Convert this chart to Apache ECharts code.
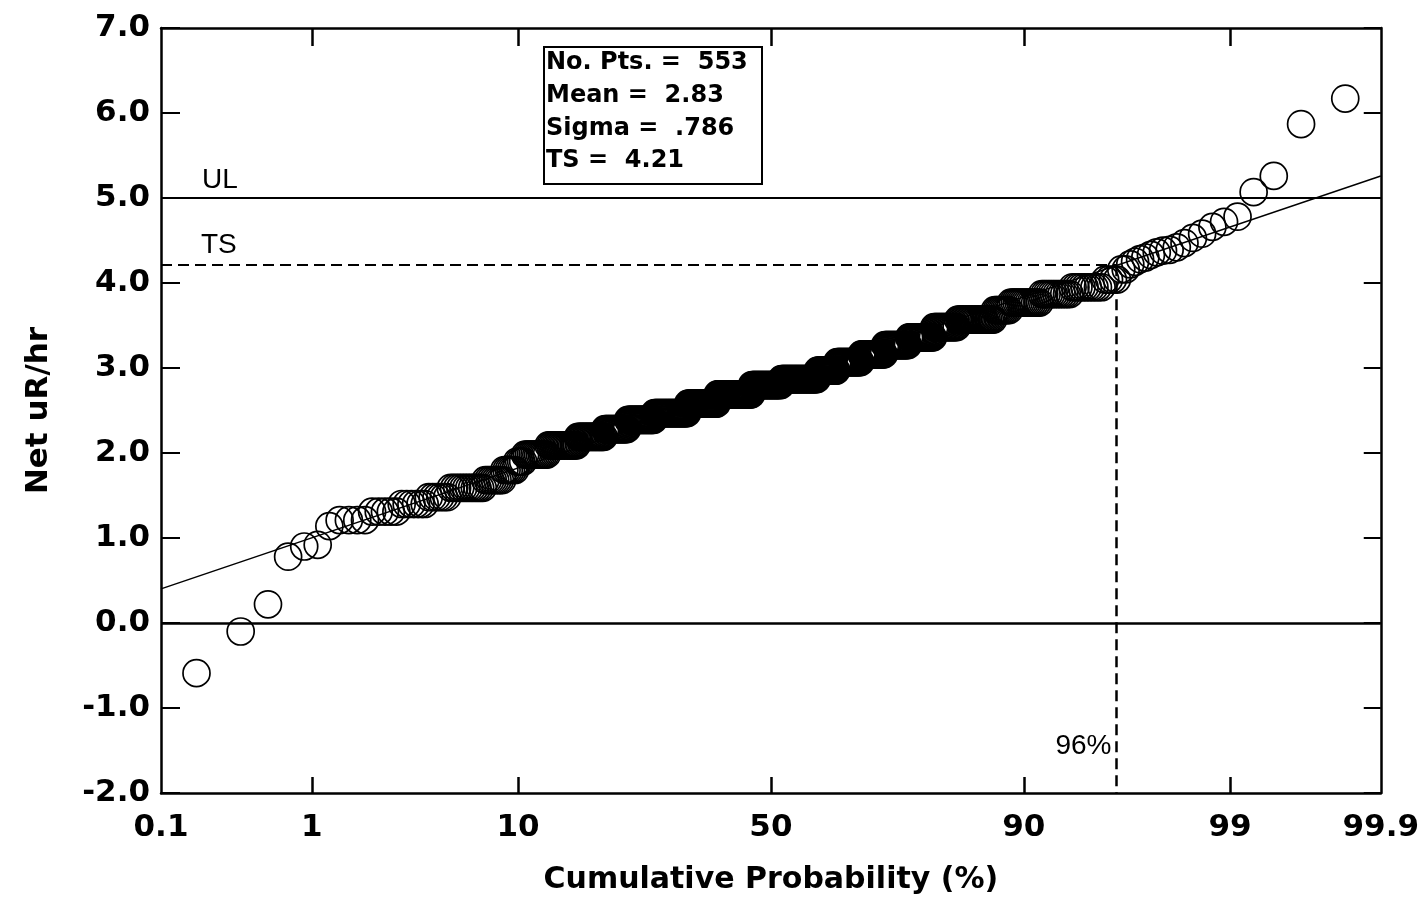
<!DOCTYPE html>
<html>
<head>
<meta charset="utf-8">
<script src="https://cdn.jsdelivr.net/npm/echarts@6/dist/echarts.min.js"></script>
<style>
html, body { margin: 0; padding: 0; background: #fff; }
#chart { width: 1422px; height: 900px; }
</style>
</head>
<body>
<div id="chart"></div>
<script>
// sorted net readings (uR/hr), grouped by level, with how many points sit at each level
var netLevels = [-0.59, -0.10, 0.22, 0.78, 0.90, 0.92, 1.14,
  1.21, 1.31, 1.40, 1.48, 1.59, 1.68, 1.80, 1.90, 1.98,
  2.09, 2.19, 2.28, 2.39, 2.47, 2.58, 2.69, 2.80, 2.87,
  2.97, 3.07, 3.16, 3.27, 3.36, 3.48, 3.57, 3.68, 3.77, 3.87, 3.95, 4.04, 4.16,
  4.22, 4.25, 4.28, 4.30, 4.33, 4.36, 4.38, 4.39, 4.42, 4.47, 4.53, 4.58, 4.66, 4.72, 4.78,
  5.07, 5.26, 5.87, 6.17];
var levelCounts = [1, 1, 1, 1, 1, 1, 1,
  4, 5, 6, 6, 12, 8, 6, 4, 13,
  19, 20, 19, 24, 33, 31, 38, 33, 40,
  21, 25, 23, 22, 21, 18, 24, 9, 15, 12, 10, 4, 2,
  1, 1, 1, 1, 1, 1, 1, 1, 1, 1, 1, 1, 1, 1, 1,
  1, 1, 1, 1];

// summary shown in the box
var nPts = 553;
var meanVal = 2.83;
var sigmaVal = 0.786;
var tsVal = 4.21;
var ulVal = 5.0;
var tsPct = 96;

// probability axis (%)
var probLabels = [0.1, 1, 10, 50, 90, 99, 99.9];
var probTicks = [1, 10, 50, 90, 99];

// inverse standard normal (Acklam)
function normInv(p) {
  var a = [-3.969683028665376e+01, 2.209460984245205e+02, -2.759285104469687e+02, 1.383577518672690e+02, -3.066479806614716e+01, 2.506628277459239e+00];
  var b = [-5.447609879822406e+01, 1.615858368580409e+02, -1.556989798598866e+02, 6.680131188771972e+01, -1.328068155288572e+01];
  var c = [-7.784894002430293e-03, -3.223964580411365e-01, -2.400758277161838e+00, -2.549732539343734e+00, 4.374664141464968e+00, 2.938163982698783e+00];
  var d = [7.784695709041462e-03, 3.224671290700398e-01, 2.445134137142996e+00, 3.754408661907416e+00];
  var pl = 0.02425, q, r;
  if (p < pl) {
    q = Math.sqrt(-2 * Math.log(p));
    return (((((c[0]*q+c[1])*q+c[2])*q+c[3])*q+c[4])*q+c[5]) / ((((d[0]*q+d[1])*q+d[2])*q+d[3])*q+1);
  }
  if (p > 1 - pl) {
    q = Math.sqrt(-2 * Math.log(1 - p));
    return -(((((c[0]*q+c[1])*q+c[2])*q+c[3])*q+c[4])*q+c[5]) / ((((d[0]*q+d[1])*q+d[2])*q+d[3])*q+1);
  }
  q = p - 0.5; r = q * q;
  return (((((a[0]*r+a[1])*r+a[2])*r+a[3])*r+a[4])*r+a[5])*q / (((((b[0]*r+b[1])*r+b[2])*r+b[3])*r+b[4])*r+1);
}
function pz(pct) { return normInv(pct / 100); }

var zMin = pz(0.1), zMax = pz(99.9);

// plotting position i/(n+1) for the sorted values
var pts = [];
var rank = 0;
for (var k = 0; k < netLevels.length; k++) {
  for (var j = 0; j < levelCounts[k]; j++) {
    rank++;
    pts.push([normInv(rank / (nPts + 1)), netLevels[k]]);
  }
}

var labelZ = probLabels.map(pz);
var tickZ = probTicks.map(pz);
function probFmt(v) {
  var best = 0;
  for (var i = 1; i < labelZ.length; i++) {
    if (Math.abs(labelZ[i] - v) < Math.abs(labelZ[best] - v)) best = i;
  }
  return String(probLabels[best]);
}

var z96 = pz(tsPct);
var tickFont = { fontFamily: 'DejaVu Sans', fontWeight: 'bold', fontSize: 31, color: '#000' };

var chart = echarts.init(document.getElementById('chart'));
chart.setOption({
  animation: false,
  backgroundColor: '#fff',
  grid: { left: 161, right: 37, top: 28, bottom: 105, containLabel: false },
  xAxis: [{
    type: 'value', min: zMin, max: zMax, position: 'bottom',
    name: 'Cumulative Probability (%)', nameLocation: 'middle', nameGap: 72,
    nameTextStyle: { fontFamily: 'DejaVu Sans', fontWeight: 'bold', fontSize: 30, color: '#000' },
    axisLine: { onZero: false, lineStyle: { color: '#000', width: 2.5 } },
    axisTick: { inside: true, length: 16, customValues: tickZ, lineStyle: { color: '#000', width: 2.5 } },
    axisLabel: Object.assign({ customValues: labelZ, formatter: probFmt, margin: 19 }, tickFont),
    splitLine: { show: false }
  }, {
    type: 'value', min: zMin, max: zMax, position: 'top',
    axisLine: { onZero: false, lineStyle: { color: '#000', width: 2.5 } },
    axisTick: { inside: true, length: 18, customValues: tickZ, lineStyle: { color: '#000', width: 2.5 } },
    axisLabel: { show: false },
    splitLine: { show: false }
  }],
  yAxis: [{
    type: 'value', min: -2, max: 7, interval: 1, position: 'left',
    name: 'Net uR/hr', nameLocation: 'middle', nameGap: 107, nameRotate: 90,
    nameTextStyle: { fontFamily: 'DejaVu Sans', fontWeight: 'bold', fontSize: 31, color: '#000' },
    axisLine: { show: true, onZero: false, lineStyle: { color: '#000', width: 2.5 } },
    axisTick: { show: true, inside: true, length: 19, lineStyle: { color: '#000', width: 2 } },
    axisLabel: Object.assign({ formatter: function (v) { return v.toFixed(1); }, margin: 11 }, tickFont),
    splitLine: { show: false }
  }, {
    type: 'value', min: -2, max: 7, interval: 1, position: 'right',
    axisLine: { show: true, onZero: false, lineStyle: { color: '#000', width: 2.5 } },
    axisTick: { show: true, inside: true, length: 17, lineStyle: { color: '#000', width: 2 } },
    axisLabel: { show: false },
    splitLine: { show: false }
  }],
  series: [{
    type: 'line',
    data: [[zMin, meanVal + sigmaVal * zMin], [zMax, meanVal + sigmaVal * zMax]],
    symbol: 'none', silent: true,
    lineStyle: { color: '#000', width: 1.5 },
    markLine: {
      silent: true, symbol: 'none', label: { show: false },
      data: [
        { yAxis: ulVal, lineStyle: { color: '#000', width: 2, type: 'solid' } },
        { yAxis: 0, lineStyle: { color: '#000', width: 2.5, type: 'solid' } },
        [{ coord: [zMin, tsVal], lineStyle: { color: '#000', width: 2, type: [11, 6] } }, { coord: [z96, tsVal] }],
        [{ coord: [z96, tsVal], lineStyle: { color: '#000', width: 2.5, type: [11, 6] } }, { coord: [z96, -2] }]
      ]
    },
    z: 2
  }, {
    type: 'scatter',
    data: pts,
    symbol: 'circle', symbolSize: 27,
    itemStyle: { color: 'rgba(0,0,0,0)', borderColor: '#000', borderWidth: 1.7, opacity: 1 },
    silent: true,
    z: 3
  }]
});

// line labels and the summary box
var ulPx = chart.convertToPixel({ gridIndex: 0 }, [zMin, ulVal]);
var tsPx = chart.convertToPixel({ gridIndex: 0 }, [zMin, tsVal]);
var pctPx = chart.convertToPixel({ gridIndex: 0 }, [z96, -1.45]);
var thin = { fontFamily: 'Liberation Sans', fontSize: 28, fill: '#000' };
var boxFont = { fontFamily: 'DejaVu Sans', fontWeight: 'bold', fontSize: 24, fill: '#000' };
chart.setOption({
  graphic: [
    { type: 'text', left: ulPx[0] + 41, top: ulPx[1] - 32, style: Object.assign({ text: 'UL' }, thin) },
    { type: 'text', left: tsPx[0] + 40, top: tsPx[1] - 34, style: Object.assign({ text: 'TS' }, thin) },
    { type: 'text', left: pctPx[0] - 61, top: pctPx[1] - 14, style: Object.assign({ text: tsPct + '%' }, thin) },
    { type: 'rect', left: 543, top: 46, shape: { width: 218, height: 137 }, style: { fill: '#fff', stroke: '#000', lineWidth: 2 }, z: 10 },
    { type: 'text', left: 546, top: 51, z: 11, style: Object.assign({ text: 'No. Pts. =  ' + nPts }, boxFont) },
    { type: 'text', left: 546, top: 84, z: 11, style: Object.assign({ text: 'Mean =  ' + meanVal.toFixed(2) }, boxFont) },
    { type: 'text', left: 546, top: 117, z: 11, style: Object.assign({ text: 'Sigma =  ' + sigmaVal.toFixed(3).replace(/^0/, '') }, boxFont) },
    { type: 'text', left: 546, top: 149, z: 11, style: Object.assign({ text: 'TS =  ' + tsVal.toFixed(2) }, boxFont) }
  ]
});
</script>
</body>
</html>
